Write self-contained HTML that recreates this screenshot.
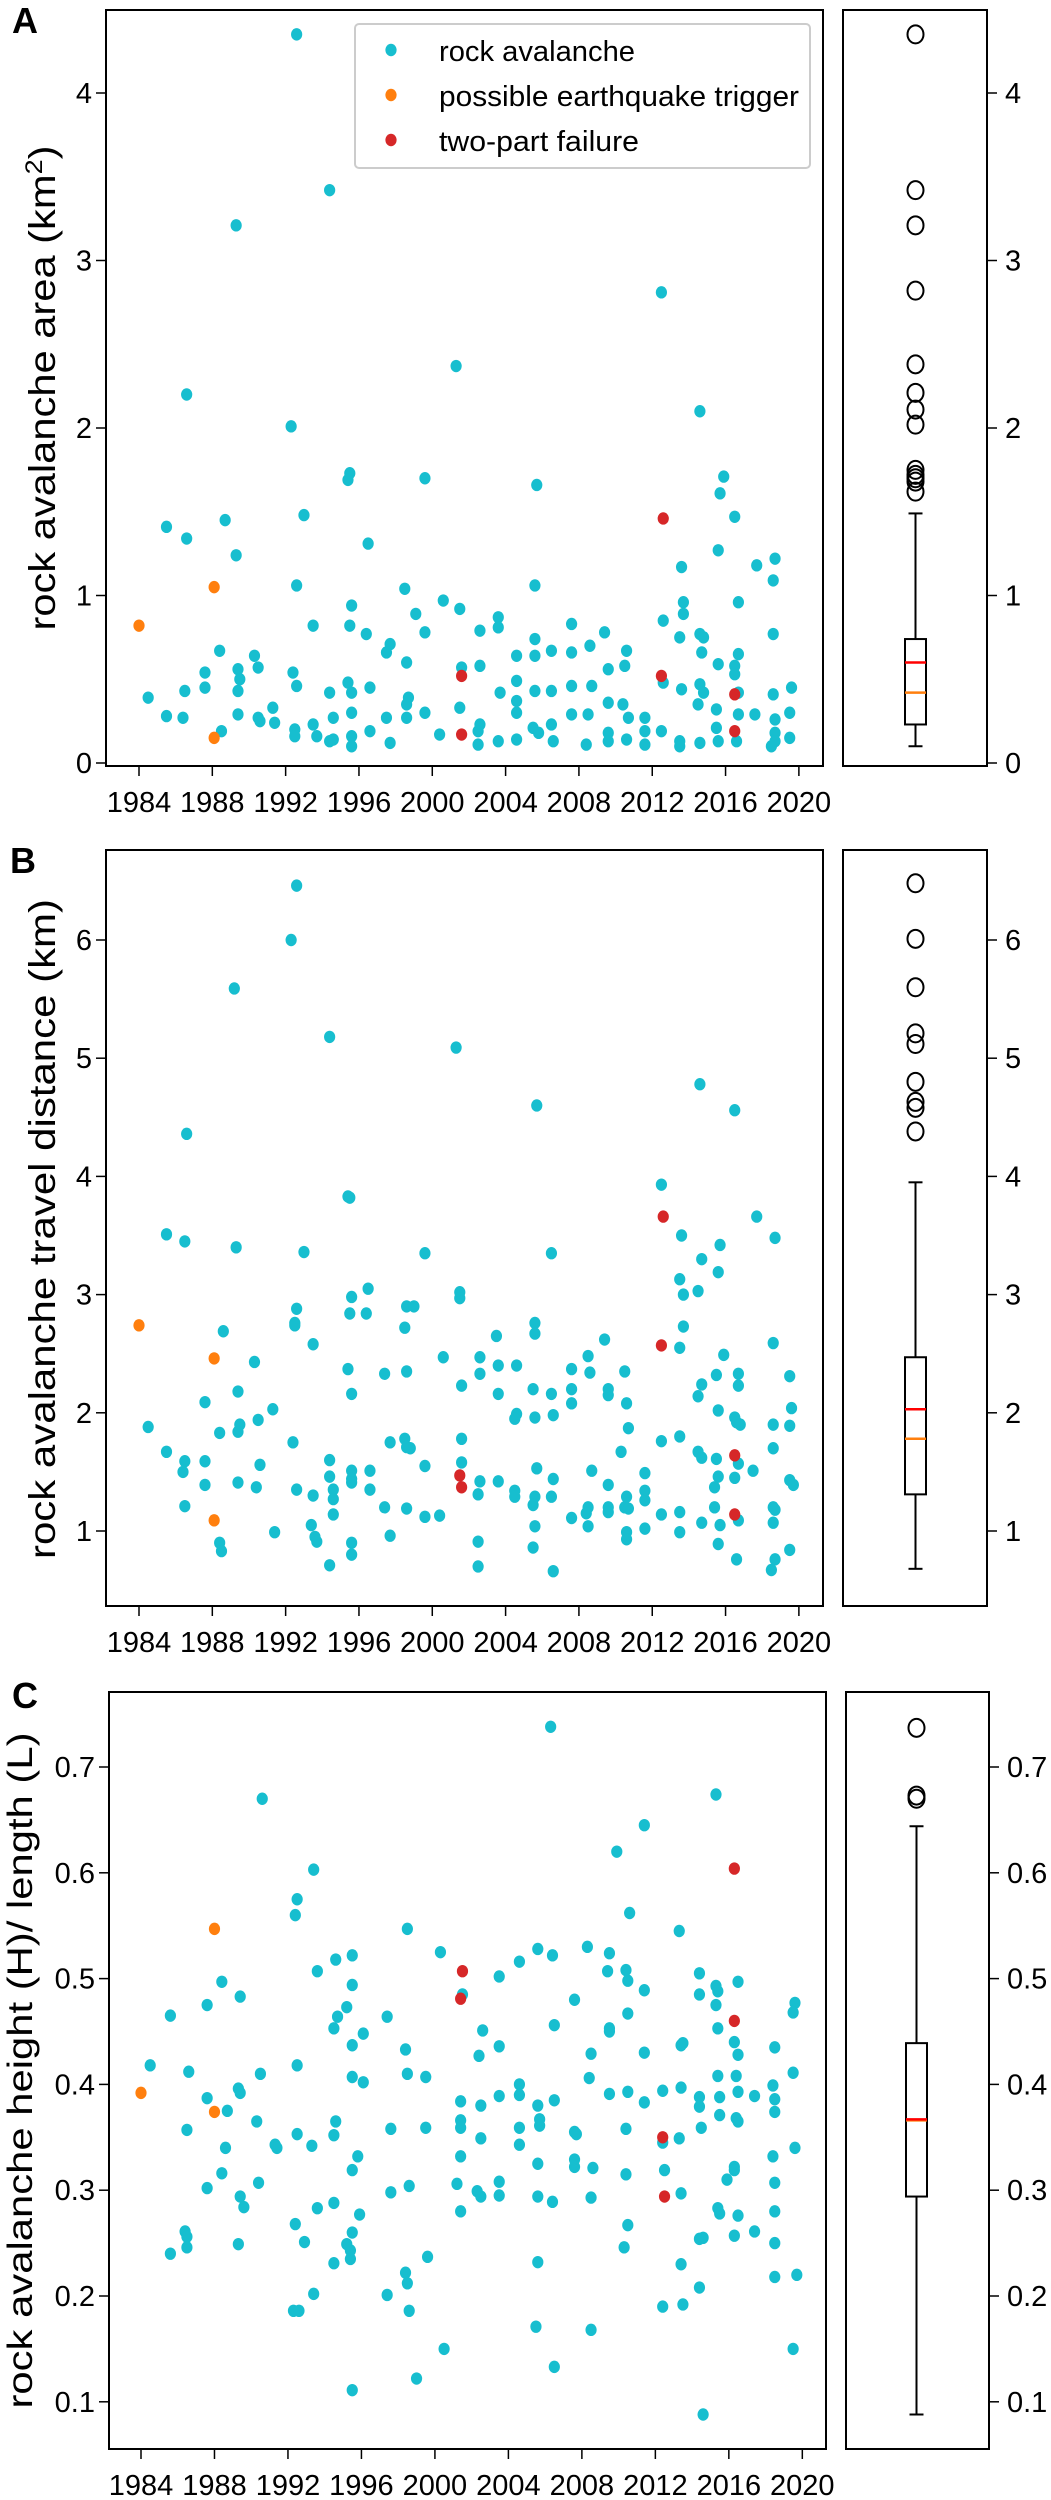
<!DOCTYPE html>
<html><head><meta charset="utf-8"><title>Rock avalanche charts</title>
<style>
html,body{margin:0;padding:0;background:#fff;}
svg{display:block;font-family:"Liberation Sans","DejaVu Sans",sans-serif;}
</style></head>
<body>
<svg id="fig" width="1051" height="2500" viewBox="0 0 1051 2500" xmlns="http://www.w3.org/2000/svg"></svg>
<script>
// ---------- Panel A: area (km2) ----------
const rockYearsA=[1992.6,1994.4,1989.3,2012.5,2001.3,1986.6,2014.6,1992.3,1995.5,1995.4,1999.6,2005.7,2015.9,2015.7,1993.0,2016.5,1985.5,1988.7,1986.6,1989.3,1996.5,2015.6,2018.7,2017.7,2013.6,2018.6,1992.6,2005.6,1998.5,2000.6,2001.5,1995.6,1999.1,2003.6,2003.6,2013.7,2013.7,2016.7,1993.5,1995.5,1996.4,1999.6,2002.6,2007.6,2009.4,2012.6,2014.6,2014.8,2013.5,2018.6,2005.6,1997.7,1997.5,1988.4,1990.3,1998.6,2004.6,2006.5,2007.6,2008.6,2010.6,2014.7,2016.7,2005.6,1987.6,1989.4,1990.5,1992.4,2001.6,2002.6,2009.6,2010.5,2015.6,2016.5,2016.5,1984.5,1986.5,1987.6,1989.5,1989.4,1992.6,1994.4,1995.4,1995.6,1996.6,1998.7,2003.7,2004.6,2005.6,2006.5,2007.6,2008.7,2012.6,2013.6,2014.6,2014.8,2016.7,2018.6,2019.6,1985.5,1986.4,1989.4,1990.5,1990.6,1991.3,1991.4,1993.5,1994.6,1995.6,1997.5,1998.6,1998.6,1999.6,2001.5,2002.6,2004.6,2004.6,2006.5,2007.6,2008.5,2009.6,2010.4,2010.7,2011.6,2014.5,2015.5,2016.7,2017.6,2018.7,2019.5,1988.5,1992.5,1992.5,1993.7,1994.4,1994.6,1995.6,1995.6,1996.6,1997.7,2000.4,2002.5,2002.5,2003.6,2004.6,2005.5,2005.8,2006.6,2008.4,2009.6,2009.6,2010.6,2011.6,2011.6,2012.5,2013.5,2013.5,2014.6,2015.5,2015.6,2016.6,2018.5,2018.7,2018.7,2019.5];
const rockAreaA=[4.35,3.42,3.21,2.81,2.37,2.20,2.10,2.01,1.73,1.69,1.70,1.66,1.71,1.61,1.48,1.47,1.41,1.45,1.34,1.24,1.31,1.27,1.22,1.18,1.17,1.09,1.06,1.06,1.04,0.97,0.92,0.94,0.89,0.87,0.81,0.96,0.89,0.96,0.82,0.82,0.77,0.78,0.79,0.83,0.78,0.85,0.77,0.75,0.75,0.77,0.74,0.71,0.66,0.67,0.64,0.60,0.64,0.67,0.66,0.70,0.67,0.66,0.65,0.64,0.54,0.56,0.57,0.54,0.57,0.58,0.56,0.58,0.59,0.58,0.53,0.39,0.43,0.45,0.50,0.43,0.46,0.42,0.48,0.42,0.45,0.39,0.42,0.49,0.43,0.43,0.46,0.46,0.48,0.44,0.47,0.42,0.42,0.41,0.45,0.28,0.27,0.29,0.27,0.25,0.33,0.24,0.23,0.27,0.30,0.27,0.27,0.35,0.30,0.33,0.23,0.30,0.37,0.23,0.29,0.29,0.36,0.35,0.27,0.27,0.35,0.32,0.29,0.29,0.26,0.30,0.19,0.20,0.16,0.16,0.13,0.14,0.16,0.10,0.19,0.12,0.17,0.19,0.11,0.13,0.14,0.21,0.18,0.13,0.11,0.18,0.13,0.14,0.19,0.11,0.19,0.13,0.10,0.12,0.21,0.13,0.13,0.10,0.18,0.13,0.15];
const quakeYearsA=[1984.0,1988.1,1988.1];
const quakeAreaA=[0.82,1.05,0.15];
const twoPartYearsA=[2001.6,2001.6,2012.6,2012.5,2016.5,2016.5];
const twoPartAreaA=[0.52,0.17,1.46,0.52,0.41,0.19];
const boxStatsA=[0.10,0.23,0.60,0.42,0.74,1.49]; // lo whisker, q1, median, mean, q3, hi whisker
const outliersA=[4.35,3.42,3.21,2.82,2.38,2.21,2.11,2.02,1.75,1.72,1.70,1.68,1.62];
const yTicksA=[0,1,2,3,4];
const yTickLabelsA=["0","1","2","3","4"];

// ---------- Panel B: travel distance (km) ----------
const rockYearsB=[1992.6,1992.3,1989.2,1994.4,2001.3,2014.6,2005.7,2016.5,1986.6,2012.5,1995.4,1995.5,2017.7,1985.5,1986.5,2018.7,2013.6,1989.3,1993.0,1999.6,2006.5,2015.7,2014.7,2015.6,2013.5,1996.5,2001.5,2001.5,2014.5,2013.7,1995.6,1995.5,1996.4,1998.6,1999.0,1992.6,1992.5,1992.5,1998.5,2005.6,2005.6,2013.7,1988.6,2003.5,2009.4,1993.5,2013.5,2018.6,2000.6,2002.6,2008.5,2015.9,1990.3,2003.6,2004.6,1995.4,1998.6,1997.4,2002.6,2007.6,2008.6,2010.5,2015.5,2016.7,2019.5,2001.6,2014.7,2016.7,1989.4,1995.6,2003.6,2005.5,2006.5,2007.6,2009.6,2009.6,1987.6,2007.6,2010.6,2014.5,1991.3,2015.6,2019.6,1990.5,2004.6,2004.5,2005.6,2006.6,2016.5,2016.6,2016.8,2018.6,2019.5,1984.5,1989.5,1989.4,1988.4,2010.7,2001.6,1998.5,1998.6,1998.8,1992.4,1997.7,2012.5,2013.5,2018.6,1985.5,2010.3,2014.5,2014.7,2015.5,1987.6,1986.5,1994.4,2001.6,1990.6,1999.6,2016.7,1986.4,1995.6,1996.6,2005.7,2008.7,2011.6,2017.5,1994.4,2015.6,2016.5,2006.6,2002.6,2003.6,1989.4,1995.6,1995.6,2009.6,2019.5,2019.7,1987.6,1990.4,1994.6,1992.6,1996.6,2015.4,2004.5,2011.6,1993.5,1994.6,2002.5,2004.5,2005.6,2006.5,2010.6,2011.6,1986.5,1997.4,1998.6,2015.4,2008.5,2009.6,2009.6,2010.5,2010.7,2018.6,2018.7,2013.5,1994.6,1999.6,2000.4,2005.5,2007.6,2008.4,2012.5,2016.7,1993.4,2005.6,2008.5,2014.7,2015.7,2018.6,1991.4,1997.7,2010.6,2010.6,2011.6,2013.5,1993.6,1993.7,1988.4,1988.5,1995.6,2002.5,1995.6,2005.5,2015.6,2019.5,2016.6,2018.7,1994.4,2002.5,2006.6,2018.5];
const rockDistB=[6.46,6.00,5.59,5.18,5.09,4.78,4.60,4.56,4.36,3.93,3.83,3.82,3.66,3.51,3.45,3.48,3.50,3.40,3.36,3.35,3.35,3.42,3.30,3.19,3.13,3.05,3.02,2.97,3.03,3.00,2.98,2.84,2.84,2.90,2.90,2.88,2.76,2.74,2.72,2.76,2.67,2.73,2.69,2.65,2.62,2.58,2.55,2.59,2.47,2.47,2.48,2.49,2.43,2.40,2.40,2.37,2.35,2.33,2.33,2.37,2.34,2.35,2.32,2.33,2.31,2.23,2.24,2.23,2.18,2.16,2.16,2.20,2.16,2.20,2.20,2.15,2.09,2.08,2.08,2.14,2.03,2.02,2.04,1.94,1.99,1.95,1.96,1.98,1.96,1.92,1.90,1.90,1.89,1.88,1.90,1.84,1.83,1.87,1.78,1.78,1.71,1.70,1.75,1.75,1.76,1.80,1.70,1.67,1.67,1.67,1.62,1.61,1.59,1.59,1.60,1.58,1.56,1.55,1.57,1.50,1.51,1.51,1.53,1.51,1.49,1.51,1.46,1.46,1.45,1.44,1.42,1.42,1.41,1.44,1.41,1.39,1.43,1.39,1.39,1.37,1.35,1.35,1.35,1.37,1.34,1.34,1.30,1.27,1.31,1.29,1.29,1.29,1.29,1.26,1.21,1.20,1.19,1.20,1.20,1.20,1.16,1.20,1.19,1.20,1.18,1.16,1.14,1.12,1.13,1.22,1.11,1.15,1.14,1.09,1.05,1.04,1.04,1.07,1.05,1.07,0.99,0.96,0.99,0.93,1.02,0.99,0.95,0.91,0.90,0.83,0.90,0.91,0.80,0.86,0.89,0.84,0.76,0.76,0.71,0.70,0.66,0.67];
const quakeYearsB=[1984.0,1988.1,1988.1];
const quakeDistB=[2.74,2.46,1.09];
const twoPartYearsB=[2012.6,2012.5,2001.5,2001.6,2016.5,2016.5];
const twoPartDistB=[3.66,2.57,1.47,1.37,1.64,1.14];
const boxStatsB=[0.68,1.31,2.03,1.78,2.47,3.95];
const outliersB=[6.48,6.01,5.60,5.21,5.12,4.80,4.63,4.58,4.38];
const yTicksB=[1,2,3,4,5,6];
const yTickLabelsB=["1","2","3","4","5","6"];

// ---------- Panel C: H/L ----------
const rockYearsC=[2006.3,1990.6,2015.3,2011.4,2009.9,1993.4,1992.5,1992.4,2010.6,1998.5,2013.3,2000.3,2005.6,2006.4,2008.3,2009.5,1995.5,1994.6,2004.6,1993.6,2009.4,2010.4,2014.4,1988.4,2003.5,2010.5,2016.5,1995.5,2015.3,2015.4,2011.4,2014.4,2001.5,1989.4,2007.6,1987.6,2019.6,2019.5,2015.3,1995.2,1985.6,1994.7,1997.4,2010.5,2006.5,1994.5,2015.4,2009.5,2009.5,2002.6,1996.1,2016.3,2013.4,2013.5,1995.5,2003.5,1998.4,2018.5,2008.5,2011.4,2002.4,2016.5,1984.5,1992.5,1986.6,1990.5,1998.5,1999.5,1995.5,2008.4,2015.4,2016.4,2019.5,1996.1,2004.6,1989.3,1989.4,2009.5,2010.5,2012.4,2013.4,2016.5,2017.4,2018.4,2003.5,2004.6,2014.4,2015.5,1987.6,2018.5,2001.4,2006.5,1988.7,2011.4,2002.5,2005.6,2014.4,2018.5,2015.5,2016.4,2016.5,2001.4,1990.3,1994.6,2005.7,2005.7,2004.6,1997.6,1999.5,2001.4,2010.4,2014.5,1986.5,2007.6,2007.7,1992.5,1994.5,2013.3,2002.5,1991.3,1991.4,1993.3,2004.6,2012.4,2019.6,1988.6,1995.8,2001.4,2018.4,2005.6,2007.6,2007.6,2008.6,2016.3,2016.3,1988.4,2012.5,2010.4,1995.5,2015.9,2003.5,1990.4,2018.5,1998.6,2001.2,1987.6,2002.3,2002.5,1997.6,1989.4,2003.5,2005.6,2006.4,2008.5,2013.4,1994.5,1989.6,1993.6,2015.4,2015.5,2018.5,2001.4,2016.5,1995.9,1992.4,2010.5,1986.4,1986.5,1986.5,1995.5,2017.4,2016.3,2014.4,2014.6,1992.9,1989.3,1995.2,1995.4,2018.5,2010.3,1985.6,1999.6,1995.4,1994.5,2005.6,2013.4,2019.7,2018.5,1998.4,1998.5,2014.4,1997.4,1993.4,1992.3,1992.6,1998.6,2012.4,2013.5,2005.5,2008.5,2000.5,2019.5,1999.0,2006.5,1995.5,2014.6];
const rockHLC=[0.738,0.670,0.674,0.645,0.620,0.603,0.575,0.560,0.562,0.547,0.545,0.525,0.528,0.522,0.530,0.524,0.522,0.518,0.516,0.507,0.507,0.508,0.505,0.497,0.502,0.498,0.497,0.494,0.493,0.488,0.489,0.485,0.485,0.483,0.480,0.475,0.477,0.468,0.475,0.473,0.465,0.464,0.464,0.467,0.456,0.453,0.453,0.453,0.450,0.451,0.448,0.440,0.437,0.439,0.437,0.436,0.433,0.435,0.429,0.430,0.427,0.428,0.418,0.418,0.412,0.410,0.410,0.407,0.407,0.406,0.408,0.408,0.411,0.402,0.400,0.396,0.392,0.391,0.393,0.394,0.397,0.393,0.389,0.399,0.389,0.390,0.388,0.388,0.387,0.386,0.384,0.385,0.375,0.383,0.380,0.380,0.379,0.374,0.371,0.368,0.365,0.366,0.365,0.365,0.367,0.361,0.359,0.358,0.359,0.359,0.358,0.359,0.357,0.355,0.353,0.353,0.352,0.349,0.349,0.343,0.340,0.342,0.343,0.345,0.340,0.340,0.332,0.332,0.332,0.325,0.329,0.322,0.321,0.322,0.319,0.316,0.319,0.315,0.319,0.310,0.308,0.307,0.307,0.304,0.306,0.302,0.299,0.294,0.298,0.294,0.295,0.294,0.289,0.293,0.297,0.288,0.284,0.283,0.283,0.278,0.280,0.280,0.276,0.277,0.268,0.267,0.261,0.256,0.246,0.260,0.261,0.257,0.254,0.255,0.251,0.249,0.249,0.243,0.250,0.246,0.240,0.237,0.235,0.231,0.232,0.230,0.220,0.218,0.222,0.212,0.208,0.201,0.202,0.186,0.186,0.186,0.190,0.192,0.171,0.168,0.150,0.150,0.122,0.133,0.111,0.088];
const quakeYearsC=[1984.0,1988.0,1988.0];
const quakeHLC=[0.392,0.547,0.374];
const twoPartYearsC=[2001.5,2001.4,2016.3,2016.3,2012.4,2012.5];
const twoPartHLC=[0.507,0.481,0.604,0.460,0.350,0.294];
const boxStatsC=[0.088,0.294,0.367,0.366,0.439,0.644];
const outliersC=[0.737,0.673,0.670];
const yTicksC=[0.1,0.2,0.3,0.4,0.5,0.6,0.7];
const yTickLabelsC=["0.1","0.2","0.3","0.4","0.5","0.6","0.7"];

const xTickYears=[1984,1988,1992,1996,2000,2004,2008,2012,2016,2020];
const xTickLabels=["1984","1988","1992","1996","2000","2004","2008","2012","2016","2020"];

const NS="http://www.w3.org/2000/svg";
const svg=document.getElementById('fig');
const CYAN="#17becf", ORANGE="#ff7f0e", RED="#d62728";
function mk(tag,attrs,parent){const e=document.createElementNS(NS,tag);for(const k in attrs)e.setAttribute(k,attrs[k]);(parent||svg).appendChild(e);return e;}

function drawPanel(cfg){
  const g=mk('g',{});
  
  
  const X=yr=>cfg.x0+(yr-1984)*cfg.xPerYr;
  const Y=v=>cfg.yRef-(v-cfg.vRef)*cfg.yPerUnit;
  const fr=mk('rect',{x:cfg.L,y:cfg.T,width:cfg.R-cfg.L,height:cfg.B-cfg.T,fill:'none',stroke:'#000','stroke-width':2},g);
  
  
  cfg.yTicks.forEach((v,i)=>{
    const t=mk('line',{x1:cfg.L-10,x2:cfg.L,y1:Y(v),y2:Y(v),stroke:'#000','stroke-width':1.5},g);
    
    
    const lb=mk('text',{x:cfg.L-14,y:Y(v)+10,'text-anchor':'end','font-size':29},g);
    lb.textContent=cfg.yLabels[i];
    
    
    const t2=mk('line',{x1:cfg.bR,x2:cfg.bR+10,y1:Y(v),y2:Y(v),stroke:'#000','stroke-width':1.5},g);
    
    
    const lb2=mk('text',{x:cfg.bR+18,y:Y(v)+10,'text-anchor':'start','font-size':29},g);
    lb2.textContent=cfg.yLabels[i];
    
    
  });
  xTickYears.forEach((yr,i)=>{
    const t=mk('line',{x1:X(yr),x2:X(yr),y1:cfg.B,y2:cfg.B+10,stroke:'#000','stroke-width':1.5},g);
    
    
    const lb=mk('text',{x:X(yr),y:cfg.xLabY,'text-anchor':'middle','font-size':29},g);
    lb.textContent=xTickLabels[i];
    
    
  });
  const yc=(cfg.T+cfg.B)/2+cfg.titleShift;
  const tt=mk('text',{x:0,y:0,transform:`translate(${cfg.titleX},${yc}) rotate(-90)`,'text-anchor':'middle','font-size':cfg.titleSize,textLength:cfg.titleLen,lengthAdjust:'spacingAndGlyphs'},g);
  tt.innerHTML=cfg.title;
  
  
  const pl=mk('text',{x:cfg.letterX,y:cfg.letterY,'font-size':36,'font-weight':'bold'},g);
  pl.textContent=cfg.letter;
  
  
  const series=[[cfg.rockX,cfg.rockV,CYAN,'rock-avalanche-point'],[cfg.quakeX,cfg.quakeV,ORANGE,'earthquake-trigger-point'],[cfg.twoX,cfg.twoV,RED,'two-part-failure-point']];
  series.forEach(s=>{
    s[0].forEach((yr,i)=>{
      const c=mk('ellipse',{cx:X(yr),cy:Y(s[1][i]),rx:5.6,ry:6.2,fill:s[2]},g);
      
      
    });
  });
  const bf=mk('rect',{x:cfg.bL,y:cfg.T,width:cfg.bR-cfg.bL,height:cfg.B-cfg.T,fill:'none',stroke:'#000','stroke-width':2},g);
  
  
  const bs=cfg.box, cx=cfg.bC, hw=10.5;
  const wl=mk('line',{x1:cx,x2:cx,y1:Y(bs[0]),y2:Y(bs[1]),stroke:'#000','stroke-width':2},g);
  
  
  const wh=mk('line',{x1:cx,x2:cx,y1:Y(bs[4]),y2:Y(bs[5]),stroke:'#000','stroke-width':2},g);
  
  
  [bs[0],bs[5]].forEach(v=>{
    const cap=mk('line',{x1:cx-7,x2:cx+7,y1:Y(v),y2:Y(v),stroke:'#000','stroke-width':2},g);
    
    
  });
  const bx=mk('rect',{x:cx-hw,y:Y(bs[4]),width:hw*2,height:Y(bs[1])-Y(bs[4]),fill:'none',stroke:'#000','stroke-width':2},g);
  
  
  const mn=mk('line',{x1:cx-hw,x2:cx+hw,y1:Y(bs[3]),y2:Y(bs[3]),stroke:ORANGE,'stroke-width':2.5},g);
  
  
  const md=mk('line',{x1:cx-hw,x2:cx+hw,y1:Y(bs[2]),y2:Y(bs[2]),stroke:'#f00','stroke-width':2.5},g);
  
  
  cfg.outliers.forEach(v=>{
    const o=mk('ellipse',{cx:cx,cy:Y(v),rx:8,ry:9,fill:'none',stroke:'#000','stroke-width':2},g);
    
    
  });
}

drawPanel({name:'area',letter:'A',letterX:12,letterY:33,L:106,R:823,T:10,B:766,bL:843,bR:987,bC:915.5,
  x0:139,xPerYr:18.33,yRef:763,vRef:0,yPerUnit:167.5,xLabY:812,
  yTicks:yTicksA,yLabels:yTickLabelsA,title:'rock avalanche area (km<tspan baseline-shift="super" font-size="24">2</tspan>)',titleLen:485,titleShift:0,titleX:55,titleSize:37,
  rockX:rockYearsA,rockV:rockAreaA,quakeX:quakeYearsA,quakeV:quakeAreaA,twoX:twoPartYearsA,twoV:twoPartAreaA,box:boxStatsA,outliers:outliersA});
drawPanel({name:'distance',letter:'B',letterX:10,letterY:873,L:106,R:823,T:850,B:1606,bL:843,bR:987,bC:915.5,
  x0:139,xPerYr:18.33,yRef:1531,vRef:1,yPerUnit:118.2,xLabY:1652,
  yTicks:yTicksB,yLabels:yTickLabelsB,title:'rock avalanche travel distance (km)',titleLen:660,titleShift:1,titleX:55,titleSize:37,
  rockX:rockYearsB,rockV:rockDistB,quakeX:quakeYearsB,quakeV:quakeDistB,twoX:twoPartYearsB,twoV:twoPartDistB,box:boxStatsB,outliers:outliersB});
drawPanel({name:'height-length',letter:'C',letterX:12,letterY:1708,L:109,R:826,T:1692,B:2449,bL:846,bR:989,bC:916.5,
  x0:141,xPerYr:18.37,yRef:1767,vRef:0.7,yPerUnit:1058,xLabY:2495,
  yTicks:yTicksC,yLabels:yTickLabelsC,title:'rock avalanche height (H)/ length (L)',titleLen:676,titleShift:0,titleX:32,titleSize:35,
  rockX:rockYearsC,rockV:rockHLC,quakeX:quakeYearsC,quakeV:quakeHLC,twoX:twoPartYearsC,twoV:twoPartHLC,box:boxStatsC,outliers:outliersC});

const lg=mk('g',{});


const lr=mk('rect',{x:355,y:24,width:455,height:144,rx:4,fill:'#fff','fill-opacity':0.85,stroke:'#cccccc','stroke-width':2},lg);


const legendLabels=["rock avalanche","possible earthquake trigger","two-part failure"];
const legendColors=[CYAN,ORANGE,RED];
const legendLens=[196,360,200];
legendLabels.forEach((t,i)=>{
  const yy=50+i*45;
  const m=mk('ellipse',{cx:391,cy:yy,rx:5.6,ry:6.2,fill:legendColors[i]},lg);
  
  
  const tx=mk('text',{x:439,y:yy+11,'font-size':29,textLength:legendLens[i],lengthAdjust:'spacingAndGlyphs'},lg);
  tx.textContent=t;
  
  
});
</script>
</body></html>
